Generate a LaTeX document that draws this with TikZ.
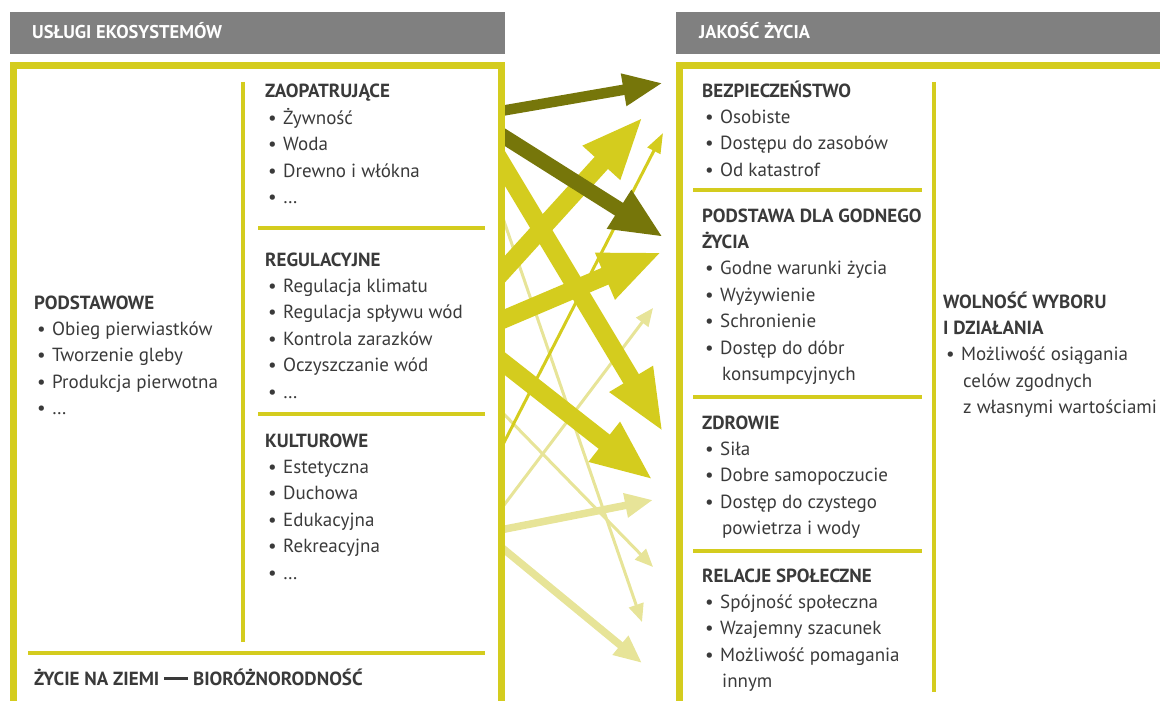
\documentclass[tikz,border=0pt]{standalone}
\usepackage{fontspec}
\setmainfont{PT Sans}
\usetikzlibrary{arrows.meta}
\definecolor{headgray}{RGB}{128,128,128}
\definecolor{frameyellow}{RGB}{212,204,30}
\definecolor{arrowdark}{RGB}{118,118,10}
\definecolor{arrowlight}{RGB}{231,228,152}
\definecolor{textgray}{RGB}{58,58,58}
\newcommand{\itm}[1]{\makebox[18pt][l]{\hspace{3pt}•}#1}
\newcommand{\cont}[1]{\hspace*{20pt}#1}
\newcommand{\lst}[1]{\begin{tabular}[t]{@{}l@{}}#1\end{tabular}}
\tikzset{
  frame/.style={frameyellow,line width=7pt},
  sep/.style={frameyellow,line width=4pt},
  headtext/.style={text=white,font=\fontsize{18.5}{20}\selectfont\bfseries,anchor=base west,inner sep=0pt},
  block/.style={text=textgray,font=\fontsize{19}{26.4}\selectfont,anchor=base west,inner sep=0pt},
  arr/.style n args={3}{line width=#1,-{Triangle[length=#2,width=#3]}}
}

\begin{document}
\begin{tikzpicture}[x=1pt,y=-1pt]
      \useasboundingbox (0,0) rectangle (1160,701);
      % arrow ends
      \foreach \i/\sy/\tx/\ty in {1/112/663/83,2/131/663/237,3/280/643/117,4/460/663/133,5/323/662/252,6/152/663/432,7/356/653/480,8/517/653/308,9/195/642/622,10/405/653/567,11/531/653/500,12/542/642/663}
        {\coordinate (s\i) at (495,\sy); \coordinate (t\i) at (\tx,\ty);}
      \begin{scope}
      \clip (501.5,0) rectangle (1160,701);
      % pale arrows
      \foreach \i in {8,9,10} \draw[arrowlight,arr={3pt}{18pt}{15pt}] (s\i) -- (t\i);
      \foreach \i in {11,12} \draw[arrowlight,arr={7.5pt}{28pt}{23pt}] (s\i) -- (t\i);
      % yellow arrows
      \draw[frameyellow,arr={3pt}{20pt}{14pt}] (s4) -- (t4);
      \foreach \i in {3,5,6,7} \draw[frameyellow,arr={18pt}{62pt}{46pt}] (s\i) -- (t\i);
      % dark arrows
      \draw[arrowdark,arr={10.5pt}{40pt}{30pt}] (s1) -- (t1);
      \draw[arrowdark,arr={15pt}{52pt}{42pt}] (s2) -- (t2);
      \end{scope}
      % headers
      \fill[headgray] (10,12) rectangle (505,54);
      \fill[headgray] (676,12) rectangle (1160,54);
      \node[headtext] (hleft) at (32,39) {USŁUGI EKOSYSTEMÓW};
      \node[headtext] (hright) at (699,39) {JAKOŚĆ ŻYCIA};
      % frames and separators
      \draw[frame] (13.5,705) -- (13.5,65.5) -- (501.5,65.5) -- (501.5,705);
      \draw[frame] (1165,65.5) -- (679.5,65.5) -- (679.5,705);
      \draw[sep] (243,82) -- (243,642);
      \draw[sep] (28,653) -- (485,653);
      \foreach \y in {228,414} \draw[sep] (258,\y) -- (485,\y);
      \draw[sep] (934,82) -- (934,692);
      \foreach \y in {190,397,551} \draw[sep] (693,\y) -- (922,\y);
      % ecosystem services
      \node[block] (podst) at (34,309) {\lst{\textbf{PODSTAWOWE}\\ \itm{Obieg pierwiastków}\\ \itm{Tworzenie gleby}\\ \itm{Produkcja pierwotna}\\ \itm{\dots}}};
      \node[block] (zaop) at (265,98) {\lst{\textbf{ZAOPATRUJĄCE}\\ \itm{Żywność}\\ \itm{Woda}\\ \itm{Drewno i włókna}\\ \itm{\dots}}};
      \node[block] (regul) at (265,266) {\lst{\textbf{REGULACYJNE}\\ \itm{Regulacja klimatu}\\ \itm{Regulacja spływu wód}\\ \itm{Kontrola zarazków}\\ \itm{Oczyszczanie wód}\\ \itm{\dots}}};
      \node[block] (kult) at (265,447) {\lst{\textbf{KULTUROWE}\\ \itm{Estetyczna}\\ \itm{Duchowa}\\ \itm{Edukacyjna}\\ \itm{Rekreacyjna}\\ \itm{\dots}}};
      \node[block] (zycie) at (34,685) {\textbf{ŻYCIE NA ZIEMI \rule[5.5pt]{24pt}{2.6pt} BIORÓŻNORODNOŚĆ}};
      % quality of life
      \node[block] (bezp) at (702,97) {\lst{\textbf{BEZPIECZEŃSTWO}\\ \itm{Osobiste}\\ \itm{Dostępu do zasobów}\\ \itm{Od katastrof}}};
      \node[block] (godne) at (702,222) {\lst{\textbf{PODSTAWA DLA GODNEGO}\\ \textbf{ŻYCIA}\\ \itm{Godne warunki życia}\\ \itm{Wyżywienie}\\ \itm{Schronienie}\\ \itm{Dostęp do dóbr}\\ \cont{konsumpcyjnych}}};
      \node[block] (zdrow) at (702,429) {\lst{\textbf{ZDROWIE}\\ \itm{Siła}\\ \itm{Dobre samopoczucie}\\ \itm{Dostęp do czystego}\\ \cont{powietrza i wody}}};
      \node[block] (relac) at (702,582) {\lst{\textbf{RELACJE SPOŁECZNE}\\ \itm{Spójność społeczna}\\ \itm{Wzajemny szacunek}\\ \itm{Możliwość pomagania}\\ \cont{innym}}};
      \node[block] (wolnosc) at (943,308) {\lst{\textbf{WOLNOŚĆ WYBORU}\\ \textbf{I DZIAŁANIA}\\ \itm{Możliwość osiągania}\\ \cont{celów zgodnych}\\ \cont{z własnymi wartościami}}};
\end{tikzpicture}
\end{document}
